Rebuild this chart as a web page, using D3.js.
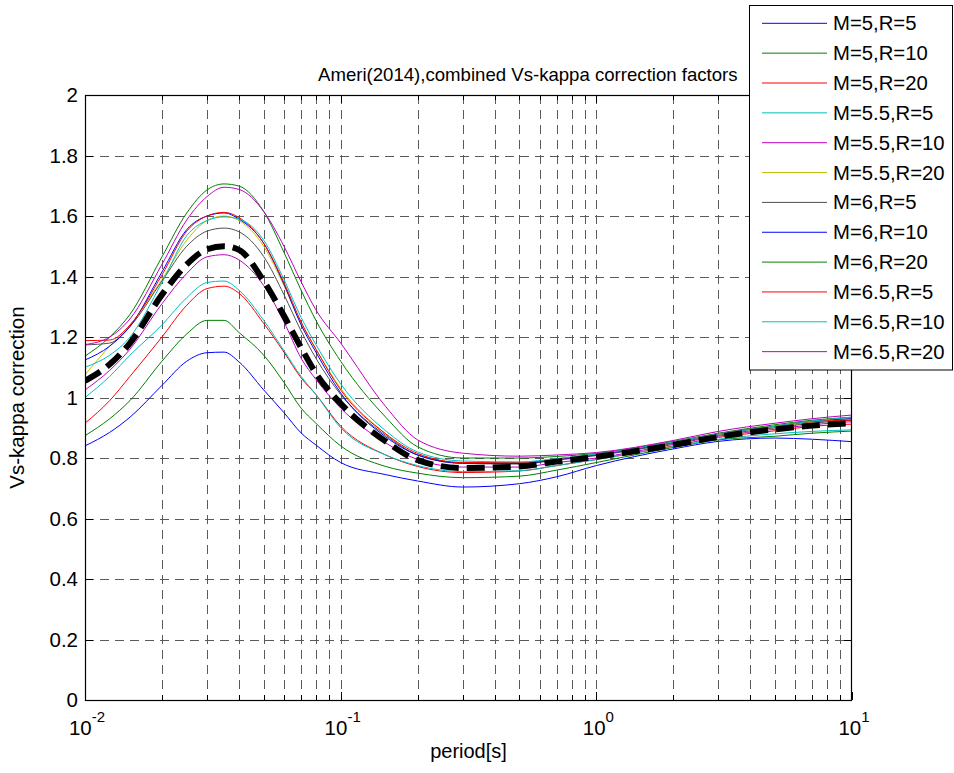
<!DOCTYPE html>
<html><head><meta charset="utf-8">
<script src="https://cdn.jsdelivr.net/npm/d3@7"></script>
<style>body{margin:0;background:#fff}svg{display:block}text{font-family:"Liberation Sans",Arial,sans-serif;fill:#000}</style>
</head><body>
<svg id="c" width="954" height="773"></svg>
<script>
const periods = [0.01,0.0125,0.015,0.02,0.025,0.03,0.035,0.04,0.05,0.06,0.07,0.08,0.1,0.15,0.2,0.3,0.5,0.7,1,2,3,5,7,10];
const seriesNames = ["M=5,R=5","M=5,R=10","M=5,R=20","M=5.5,R=5","M=5.5,R=10","M=5.5,R=20","M=6,R=5","M=6,R=10","M=6,R=20","M=6.5,R=5","M=6.5,R=10","M=6.5,R=20"];
const seriesColors = ["#0000ff","#008000","#ff0000","#00bfbf","#bf00bf","#bfbf00","#505050","#0000ff","#008000","#ff0000","#00bfbf","#bf00bf"];
const m5r5   = [0.84,0.885,0.935,1.04,1.12,1.148,1.15,1.118,1.025,0.95,0.883,0.843,0.785,0.745,0.724,0.704,0.715,0.738,0.775,0.83,0.855,0.866,0.862,0.854];
const m5r10  = [0.874,0.93,0.99,1.12,1.21,1.255,1.255,1.215,1.14,1.05,0.965,0.915,0.84,0.772,0.75,0.735,0.74,0.76,0.785,0.835,0.86,0.872,0.882,0.889];
const m5r20  = [0.915,0.99,1.07,1.2,1.305,1.36,1.368,1.345,1.245,1.15,1.065,1.01,0.905,0.81,0.772,0.752,0.757,0.775,0.795,0.84,0.868,0.89,0.905,0.912];
const m55r5  = [1.0,1.07,1.14,1.24,1.33,1.38,1.385,1.355,1.255,1.155,1.07,1.01,0.9,0.81,0.775,0.755,0.758,0.775,0.795,0.838,0.862,0.88,0.888,0.893];
const m55r10 = [1.025,1.09,1.16,1.31,1.41,1.465,1.472,1.455,1.37,1.25,1.13,1.06,0.965,0.85,0.795,0.77,0.77,0.785,0.8,0.845,0.872,0.895,0.91,0.92];
const m55r20 = [1.075,1.17,1.24,1.39,1.52,1.585,1.6,1.585,1.5,1.37,1.245,1.16,1.03,0.88,0.81,0.785,0.783,0.795,0.81,0.85,0.875,0.9,0.918,0.93];
const m6r5   = [1.174,1.18,1.235,1.385,1.5,1.55,1.56,1.548,1.466,1.34,1.22,1.13,1.01,0.875,0.81,0.782,0.78,0.793,0.808,0.848,0.875,0.9,0.915,0.925];
const m6r10  = [1.124,1.17,1.235,1.415,1.555,1.6,1.61,1.59,1.51,1.375,1.24,1.15,1.015,0.87,0.81,0.783,0.782,0.795,0.81,0.852,0.88,0.905,0.922,0.93];
const m6r20  = [1.137,1.2,1.275,1.465,1.61,1.686,1.706,1.699,1.615,1.48,1.355,1.255,1.12,0.935,0.837,0.8,0.8,0.805,0.815,0.855,0.882,0.91,0.925,0.935];
const m65r5  = [1.188,1.19,1.24,1.405,1.55,1.6,1.612,1.595,1.51,1.38,1.25,1.16,1.025,0.88,0.815,0.785,0.785,0.797,0.812,0.853,0.88,0.905,0.92,0.925];
const m65r10 = [1.1,1.14,1.2,1.38,1.535,1.585,1.597,1.59,1.52,1.39,1.265,1.175,1.045,0.89,0.82,0.79,0.787,0.798,0.813,0.853,0.88,0.905,0.922,0.935];
const m65r20 = [1.175,1.2,1.26,1.44,1.587,1.664,1.695,1.688,1.615,1.5,1.383,1.29,1.18,0.97,0.86,0.816,0.806,0.81,0.818,0.858,0.888,0.915,0.93,0.942];
const meanValues = [1.055,1.11,1.18,1.34,1.44,1.49,1.5,1.488,1.385,1.27,1.165,1.08,0.98,0.855,0.793,0.767,0.772,0.788,0.804,0.843,0.87,0.895,0.907,0.915];
const yTicks = [0,0.2,0.4,0.6,0.8,1,1.2,1.4,1.6,1.8,2];
const xMajor = [0.01,0.1,1,10];
const xExponents = ["-2","-1","0","1"];
const titleText = "Ameri(2014),combined Vs-kappa correction factors";
const xLabel = "period[s]";
const yLabel = "Vs-kappa correction";

const allSeries = [m5r5,m5r10,m5r20,m55r5,m55r10,m55r20,m6r5,m6r10,m6r20,m65r5,m65r10,m65r20];

const L=85,R=852,T=95,B=700;
const svg = d3.select("#c");
const x = d3.scaleLog().domain([0.01,10]).range([L,R]);
const y = d3.scaleLinear().domain([0,2]).range([B,T]);

svg.append("defs").append("clipPath").attr("id","clip").append("rect")
  .attr("x",L).attr("y",T).attr("width",R-L).attr("height",B-T);

const xAll = [];
for (let d=-2; d<1; d++) for (let k=1;k<=9;k++) xAll.push(k*Math.pow(10,d));
xAll.push(10);

const grid = svg.append("g").attr("stroke","#5a5a5a").attr("stroke-width",1)
  .attr("stroke-dasharray","9,6").attr("shape-rendering","crispEdges");
xAll.filter(v=>v>0.01 && v<10).forEach(v=>{
  grid.append("line").attr("x1",Math.round(x(v))+0.5).attr("x2",Math.round(x(v))+0.5).attr("y1",T).attr("y2",B);
});
yTicks.filter(v=>v>0 && v<2).forEach(v=>{
  grid.append("line").attr("x1",L).attr("x2",R).attr("y1",Math.round(y(v))+0.5).attr("y2",Math.round(y(v))+0.5);
});

const line = d3.line().x((d,i)=>x(periods[i])).y(d=>y(d)).curve(d3.curveMonotoneX);
const plot = svg.append("g").attr("clip-path","url(#clip)");
allSeries.forEach((s,i)=>{
  plot.append("path").attr("d",line(s)).attr("fill","none")
    .attr("stroke",seriesColors[i]).attr("stroke-width",1);
});
plot.append("path").attr("d",line(meanValues)).attr("fill","none")
  .attr("stroke","#000").attr("stroke-width",6).attr("stroke-dasharray","18,8");

svg.append("rect").attr("x",L+0.5).attr("y",T+0.5).attr("width",R-L-1).attr("height",B-T)
  .attr("fill","none").attr("stroke","#000").attr("stroke-width",1.2);

const tk = svg.append("g").attr("stroke","#000").attr("stroke-width",1).attr("shape-rendering","crispEdges");
yTicks.forEach(v=>{
  const yy=Math.round(y(v))+0.5;
  tk.append("line").attr("x1",L).attr("x2",L+8).attr("y1",yy).attr("y2",yy);
  tk.append("line").attr("x1",R-8).attr("x2",R).attr("y1",yy).attr("y2",yy);
});
xAll.forEach(v=>{
  const xx=Math.round(x(v))+0.5;
  const len = xMajor.includes(v)?8:5;
  tk.append("line").attr("x1",xx).attr("x2",xx).attr("y1",B).attr("y2",B-len);
  tk.append("line").attr("x1",xx).attr("x2",xx).attr("y1",T).attr("y2",T+len);
});

svg.append("g").selectAll("text").data(yTicks).join("text")
  .attr("x",L-7).attr("y",d=>y(d)+7).attr("text-anchor","end")
  .attr("font-size",20.5).text(d=>String(d));
const xl = svg.append("g");
xMajor.forEach((v,i)=>{
  const t = xl.append("text").attr("x",x(v)+2).attr("y",735).attr("text-anchor","middle").attr("font-size",20.5);
  t.append("tspan").text("10");
  t.append("tspan").attr("dy",-13).attr("font-size",15).text(xExponents[i]);
});

svg.append("text").attr("x",(L+R)/2).attr("y",758).attr("text-anchor","middle").attr("font-size",20).text(xLabel);
svg.append("text").attr("transform",`translate(24,${(T+B)/2}) rotate(-90)`).attr("text-anchor","middle").attr("font-size",20.5).text(yLabel);
svg.append("text").attr("x",318).attr("y",81).attr("font-size",18.6).text(titleText);

const lg = svg.append("g");
lg.append("rect").attr("x",749.5).attr("y",5.5).attr("width",203).attr("height",364.5)
  .attr("fill","#fff").attr("stroke","#000").attr("stroke-width",1);
seriesNames.forEach((n,i)=>{
  const yy = 23.3 + i*29.85;
  lg.append("line").attr("x1",762).attr("x2",827).attr("y1",yy).attr("y2",yy)
    .attr("stroke",seriesColors[i]).attr("stroke-width",1);
  lg.append("text").attr("x",833).attr("y",yy+7).attr("font-size",20.3).text(n);
});
</script>
</body></html>
